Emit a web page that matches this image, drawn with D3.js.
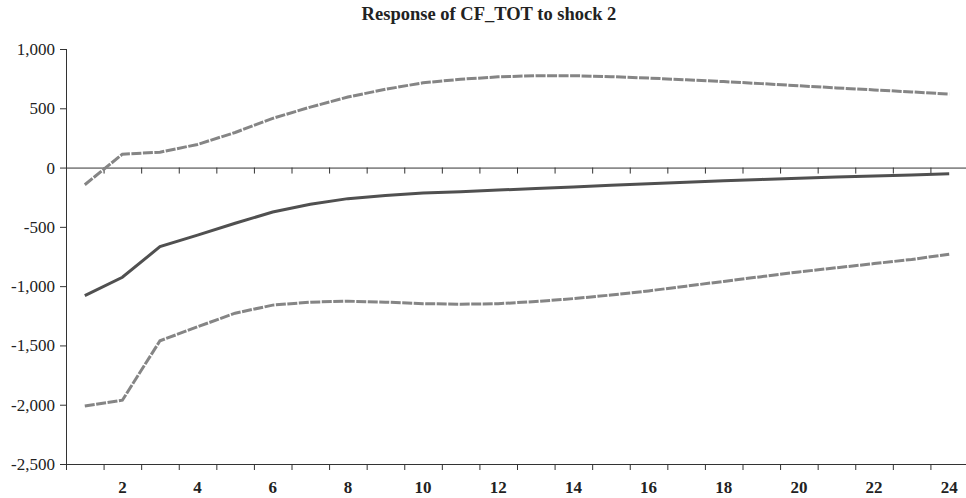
<!DOCTYPE html>
<html lang="en">
<head>
    <meta charset="UTF-8">
    <title>Response of CF_TOT to shock 2</title>
    <style>
        body { margin: 0; background: #fff; }
        svg { display: block; }
        .axis text { font-family: "Liberation Serif", "DejaVu Serif", serif; fill: #222; }
        .axis path, .axis line { stroke: #333; }
    </style>
    <script src="https://d3js.org/d3.v7.min.js"></script>
</head>
<body>
    <div id="chart"></div>

    <script>
        // periods 1..24
        const periods = d3.range(1, 25);

        // impulse response (solid line)
        const response = [-1080, -925, -667, -570, -470, -375, -310, -262, -235, -215, -203, -190,
                          -177, -163, -150, -137, -124, -112, -100, -90, -80, -71, -62, -53];

        // +/- 2 S.E. bands (dashed lines)
        const upperBand = [-145, 113, 130, 195, 296, 415, 510, 595, 660, 715, 745, 765,
                           775, 775, 767, 755, 740, 725, 708, 690, 672, 655, 638, 620];
        const lowerBand = [-2010, -1962, -1461, -1343, -1228, -1160, -1135, -1127, -1135, -1148, -1152, -1148,
                           -1130, -1105, -1075, -1040, -1000, -960, -920, -880, -845, -810, -775, -731];

        const yTicks = [1000, 500, 0, -500, -1000, -1500, -2000, -2500];

        const width = 966;
        const height = 498;
        const margin = { top: 49, right: -2, bottom: 34, left: 66 };

        const svg = d3.select("#chart").append("svg")
            .attr("width", width)
            .attr("height", height);

        // category boundaries scale
        const xEdge = d3.scaleLinear()
            .domain([0, 24])
            .range([margin.left, width - margin.right]);
        const xPos = k => xEdge(k - 0.5);

        const y = d3.scaleLinear()
            .domain([-2500, 1000])
            .range([height - margin.bottom, margin.top]);

        // hyphen instead of unicode minus
        const fmt = d => d3.format(",")(d).replace("\u2212", "-");

        // title
        svg.append("text")
            .attr("x", 489)
            .attr("y", 20)
            .attr("text-anchor", "middle")
            .attr("font-family", "Liberation Serif, DejaVu Serif, serif")
            .attr("font-weight", "bold")
            .attr("font-size", "18.5px")
            .attr("fill", "#222")
            .text("Response of CF_TOT to shock 2");

        // y axis
        svg.append("g")
            .attr("class", "axis")
            .attr("transform", `translate(${margin.left},0)`)
            .call(d3.axisLeft(y).tickValues(yTicks).tickSize(6).tickSizeOuter(0).tickFormat(fmt))
            .call(g => g.select(".domain").attr("d", `M0.5,${y(1000)}V${y(-2500) + 6}`))
            .selectAll("text")
            .attr("font-size", "17px")
            .attr("dx", "-2");

        // zero line with boundary ticks
        svg.append("g")
            .attr("class", "axis")
            .attr("transform", `translate(0,${y(0)})`)
            .call(d3.axisBottom(xEdge).tickValues(d3.range(1, 24)).tickSize(6).tickSizeOuter(0).tickFormat(""));

        // bottom line with boundary ticks
        svg.append("g")
            .attr("class", "axis")
            .attr("transform", `translate(0,${y(-2500)})`)
            .call(d3.axisBottom(xEdge).tickValues(d3.range(1, 24)).tickSize(6).tickSizeOuter(0).tickFormat(""));

        // bottom labels (even periods, bold)
        svg.append("g")
            .attr("class", "axis")
            .selectAll("text")
            .data(periods.filter(d => d % 2 === 0))
            .enter().append("text")
            .attr("x", d => xPos(d))
            .attr("y", y(-2500) + 29)
            .attr("text-anchor", "middle")
            .attr("font-size", "17px")
            .attr("font-weight", "bold")
            .text(d => d);

        const line = d3.line()
            .x((d, i) => xPos(periods[i]))
            .y(d => y(d));

        svg.append("path")
            .datum(upperBand)
            .attr("fill", "none")
            .attr("stroke", "#858585")
            .attr("stroke-width", 3)
            .attr("stroke-dasharray", "10,1.5")
            .attr("d", line);

        svg.append("path")
            .datum(lowerBand)
            .attr("fill", "none")
            .attr("stroke", "#858585")
            .attr("stroke-width", 3)
            .attr("stroke-dasharray", "10,1.5")
            .attr("d", line);

        svg.append("path")
            .datum(response)
            .attr("fill", "none")
            .attr("stroke", "#505050")
            .attr("stroke-width", 3)
            .attr("d", line);
    </script>
</body>
</html>
